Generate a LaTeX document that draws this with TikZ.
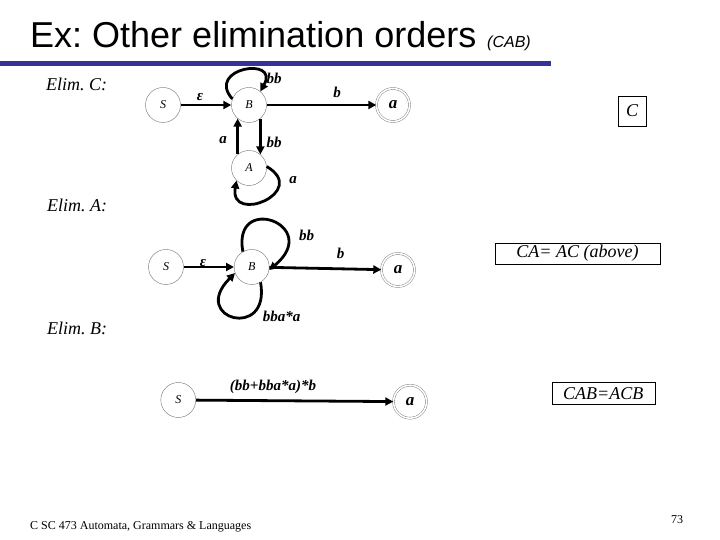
\documentclass[tikz,border=0pt]{standalone}
\usepackage{fontspec}
\setmainfont{Liberation Serif}
\newfontfamily\sansf{Liberation Sans}
\usetikzlibrary{arrows.meta}
\definecolor{slideblue}{RGB}{51,51,153}
\frenchspacing
\begin{document}
\begin{tikzpicture}[x=1pt,y=1pt,
 state/.style={circle,draw=black!55,line width=0.4pt,minimum size=35pt,inner sep=0pt,font=\fontsize{12}{14}\selectfont\itshape},
 final/.style={circle,draw=black!55,line width=0.4pt,double,double distance=1.6pt,minimum size=33pt,inner sep=0pt,font=\fontsize{17}{19}\selectfont\bfseries\itshape},
 edge/.style={line width=2.8pt,-{Triangle[length=8pt,width=8pt]}},
 elab/.style={font=\fontsize{15}{17}\selectfont\bfseries\itshape,inner sep=1pt},
 elim/.style={font=\fontsize{18}{20}\selectfont\itshape,anchor=west,inner sep=0pt},
 resbox/.style={draw,line width=0.6pt,font=\fontsize{18}{20}\selectfont\itshape,inner sep=0pt}
]
\useasboundingbox (0,0) rectangle (720,540);
\fill[white] (0,0) rectangle (720,540);

% title
\node[anchor=base west,inner sep=0pt,font=\sansf\fontsize{36}{40}\selectfont] (title) at (30,492) {Ex: Other elimination orders};
\node[anchor=base west,inner sep=0pt,font=\sansf\fontsize{16}{18}\selectfont\itshape] (sub) at (487,492) {(CAB)};
\fill[slideblue] (0,474) rectangle (551,478.5);

% section labels
\node[elim] (elimC) at (46,456) {Elim. C:};
\node[elim] (elimA) at (47,335) {Elim. A:};
\node[elim] (elimB) at (47,212) {Elim. B:};

% ---------- Elim. C ----------
\node[state] (S1) at (163,435) {S};
\node[state] (B1) at (249,435) {B};
\node[final] (a1) at (393,435) {a};
\node[state] (A1) at (249,372) {A};

\draw[edge] (S1) -- (B1);
\draw[edge] (B1) -- (a1);
\draw[edge] (B1.-50) -- (A1.50);
\draw[edge] (A1.130) -- (B1.230);
\draw[edge] (B1.160) .. controls (205,472) and (280,484) .. (B1.50);
\draw[edge] (A1.5) .. controls (310,348) and (229,315) .. (A1.225);

\node[elab] (l1) at (200,443) {ε};
\node[elab] (l2) at (274,462) {bb};
\node[elab] (l3) at (337,448) {b};
\node[elab] (l4) at (274,398) {bb};
\node[elab] (l5) at (223,400) {a};
\node[elab] (l6) at (293,360) {a};

\node[resbox,minimum width=28pt,minimum height=30pt] (boxC) at (632,429) {C};

% ---------- Elim. A ----------
\node[state] (S2) at (166,273) {S};
\node[state] (B2) at (251.7,273) {B};
\node[final] (a2) at (398,270) {a};

\draw[edge] (S2) -- (B2);
\draw[edge] (B2) -- (a2);
\draw[edge] (B2.120) .. controls (232,348) and (323,315) .. (B2.-10);
\draw[edge] (B2.-60) .. controls (271,199) and (189,221) .. (B2.200);

\node[elab] (m1) at (203,277) {ε};
\node[elab] (m2) at (306.7,305) {bb};
\node[elab] (m3) at (340.7,287) {b};
\node[elab] (m4) at (281.7,223.3) {bba*a};

\node[resbox,minimum width=165pt,minimum height=21pt] (boxCA) at (577.5,286.4) {CA= AC (above)};

% ---------- Elim. B ----------
\node[state] (S3) at (178.3,140) {S};
\node[final] (a3) at (410,138.3) {a};
\draw[edge] (S3) -- (a3);
\node[elab] (n1) at (273,153.3) {(bb+bba*a)*b};

\node[resbox,minimum width=103pt,minimum height=22pt] (boxCAB) at (603.3,146.2) {CAB=ACB};

% footer
\node[anchor=west,inner sep=0pt,font=\fontsize{12}{14}\selectfont] (foot) at (30,13) {C SC 473 Automata, Grammars \& Languages};
\node[inner sep=0pt,font=\fontsize{12}{14}\selectfont] (pg) at (677,20) {73};
\end{tikzpicture}
\end{document}
